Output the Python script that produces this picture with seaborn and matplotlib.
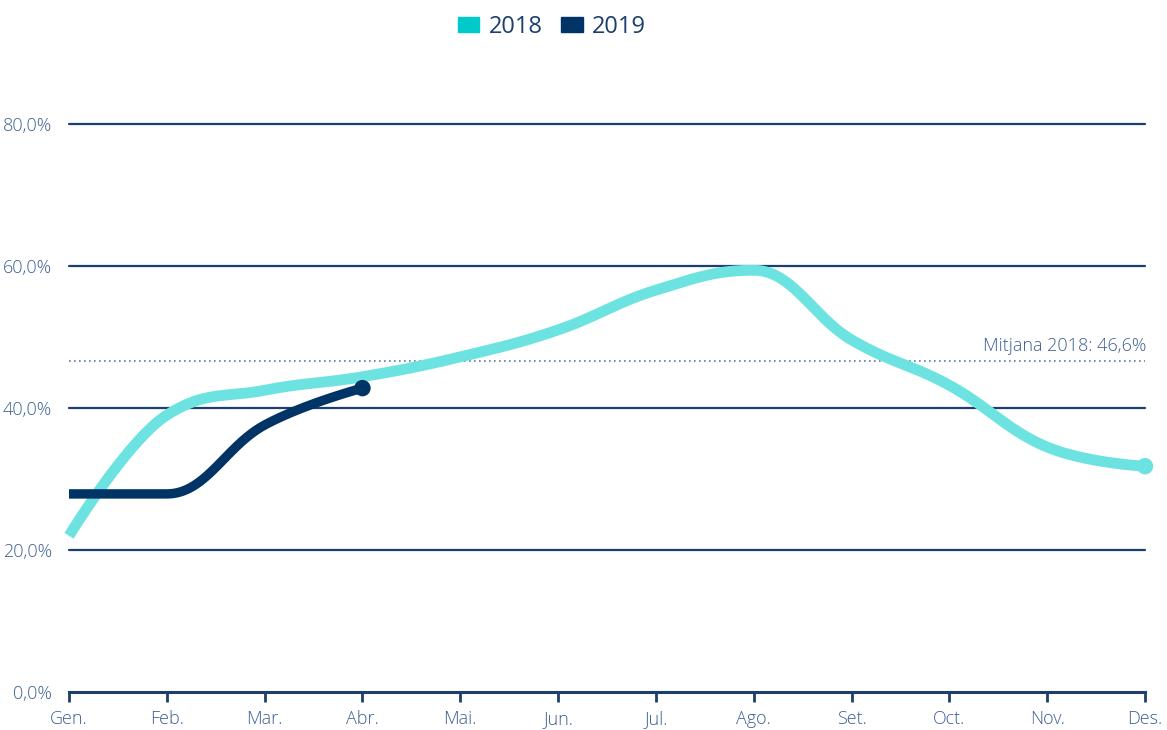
import numpy as np
import pandas as pd
import seaborn as sns
from matplotlib import pyplot as plt
from matplotlib.patches import Patch

sns.set_theme(style="white")
plt.rcParams["font.family"] = ["Open Sans", "DejaVu Sans"]

months = ["Gen.", "Feb.", "Mar.", "Abr.", "Mai.", "Jun.", "Jul.", "Ago.", "Set.", "Oct.", "Nov.", "Des."]
values_2018 = [22.0, 39.0, 42.5, 44.4, 47.2, 51.0, 56.6, 59.4, 49.6, 43.2, 34.5, 31.8]
values_2019 = [27.9, 27.9, 37.6, 42.8]
mean_2018 = 46.6
y_ticks = [0, 20, 40, 60, 80]

c2018_line = "#6ce3e0"
c2018_box = "#00c9c9"
c2019 = "#003366"
navy = "#1c3f6e"
label_col = "#3d6090"


def spline(xs, ys, n=40):
    # highcharts-like spline: smoothing 1.5, no overshoot
    xs = np.asarray(xs, float)
    ys = np.asarray(ys, float)
    m = len(xs)
    left = [None] * m
    right = [None] * m
    for i in range(1, m - 1):
        lx = (1.5 * xs[i] + xs[i - 1]) / 2.5
        ly = (1.5 * ys[i] + ys[i - 1]) / 2.5
        rx = (1.5 * xs[i] + xs[i + 1]) / 2.5
        ry = (1.5 * ys[i] + ys[i + 1]) / 2.5
        corr = (ry - ly) * (rx - xs[i]) / (rx - lx) + ys[i] - ry
        ly += corr
        ry += corr
        if ly > max(ys[i - 1], ys[i]):
            ly = max(ys[i - 1], ys[i])
            ry = 2 * ys[i] - ly
        elif ly < min(ys[i - 1], ys[i]):
            ly = min(ys[i - 1], ys[i])
            ry = 2 * ys[i] - ly
        if ry > max(ys[i], ys[i + 1]):
            ry = max(ys[i], ys[i + 1])
            ly = 2 * ys[i] - ry
        elif ry < min(ys[i], ys[i + 1]):
            ry = min(ys[i], ys[i + 1])
            ly = 2 * ys[i] - ry
        left[i] = (lx, ly)
        right[i] = (rx, ry)
    t = np.linspace(0, 1, n)
    px, py = [], []
    for i in range(1, m):
        p0 = (xs[i - 1], ys[i - 1])
        p1 = right[i - 1] if right[i - 1] is not None else p0
        p3 = (xs[i], ys[i])
        p2 = left[i] if left[i] is not None else p3
        bx = (1 - t) ** 3 * p0[0] + 3 * (1 - t) ** 2 * t * p1[0] + 3 * (1 - t) * t ** 2 * p2[0] + t ** 3 * p3[0]
        by = (1 - t) ** 3 * p0[1] + 3 * (1 - t) ** 2 * t * p1[1] + 3 * (1 - t) * t ** 2 * p2[1] + t ** 3 * p3[1]
        px.extend(bx if i == 1 else bx[1:])
        py.extend(by if i == 1 else by[1:])
    return pd.DataFrame({"x": px, "y": py})


fig = plt.figure(figsize=(11.67, 7.3), dpi=100)
ax = fig.add_axes([69 / 1167, 38 / 730, 1076 / 1167, 568 / 730])

for yv in y_ticks[1:]:
    ax.axhline(yv, color=navy, lw=1.6, zorder=1, clip_on=False)
ax.axhline(mean_2018, color="#5d7ca3", lw=1.2, ls=(0, (1, 2)), zorder=1)
ax.text(11.01, mean_2018 + 0.9, "Mitjana 2018: 46,6%", ha="right", va="bottom",
        fontsize=13, color=label_col, fontweight="light")

s18 = spline(range(len(values_2018)), values_2018)
s19 = spline(range(len(values_2019)), values_2019)
sns.lineplot(data=s18, x="x", y="y", sort=False, color=c2018_line, lw=7.8,
             solid_capstyle="butt", ax=ax, zorder=3, clip_on=False)
sns.lineplot(data=s19, x="x", y="y", sort=False, color=c2019, lw=6.8,
             solid_capstyle="butt", ax=ax, zorder=4, clip_on=False)
sns.scatterplot(x=[len(values_2018) - 1], y=[values_2018[-1]], color=c2018_line, s=140,
                edgecolor="none", ax=ax, zorder=5, clip_on=False)
sns.scatterplot(x=[len(values_2019) - 1], y=[values_2019[-1]], color=c2019, s=140,
                edgecolor="none", ax=ax, zorder=5, clip_on=False)

ax.set_xlim(0, 11)
ax.set_ylim(0, 80)
ax.set_xticks(range(len(months)))
ax.set_xticklabels(months)
ax.set_yticks(y_ticks)
ax.set_yticklabels([f"{v:.1f}%".replace(".", ",") for v in y_ticks])
ax.set_xlabel("")
ax.set_ylabel("")
for side in ["top", "right", "left"]:
    ax.spines[side].set_visible(False)
ax.spines["bottom"].set_color(navy)
ax.spines["bottom"].set_linewidth(2.2)
ax.tick_params(axis="x", bottom=True, length=7, width=2, color=navy, colors=label_col,
               labelsize=13, pad=6)
ax.tick_params(axis="y", left=False, colors=label_col, labelsize=13, pad=6)
for lab in ax.get_xticklabels() + ax.get_yticklabels():
    lab.set_color(label_col)
    lab.set_fontweight("light")

handles = [Patch(color=c2018_box, label="2018"), Patch(color=c2019, label="2019")]
fig.legend(handles=handles, loc="center", bbox_to_anchor=(552 / 1167, 1 - 27 / 730), ncol=2,
           frameon=False, fontsize=17, labelcolor=navy, handlelength=0.9, handleheight=0.6,
           handletextpad=0.4, columnspacing=0.8)

fig.savefig("out.png", dpi=100)
